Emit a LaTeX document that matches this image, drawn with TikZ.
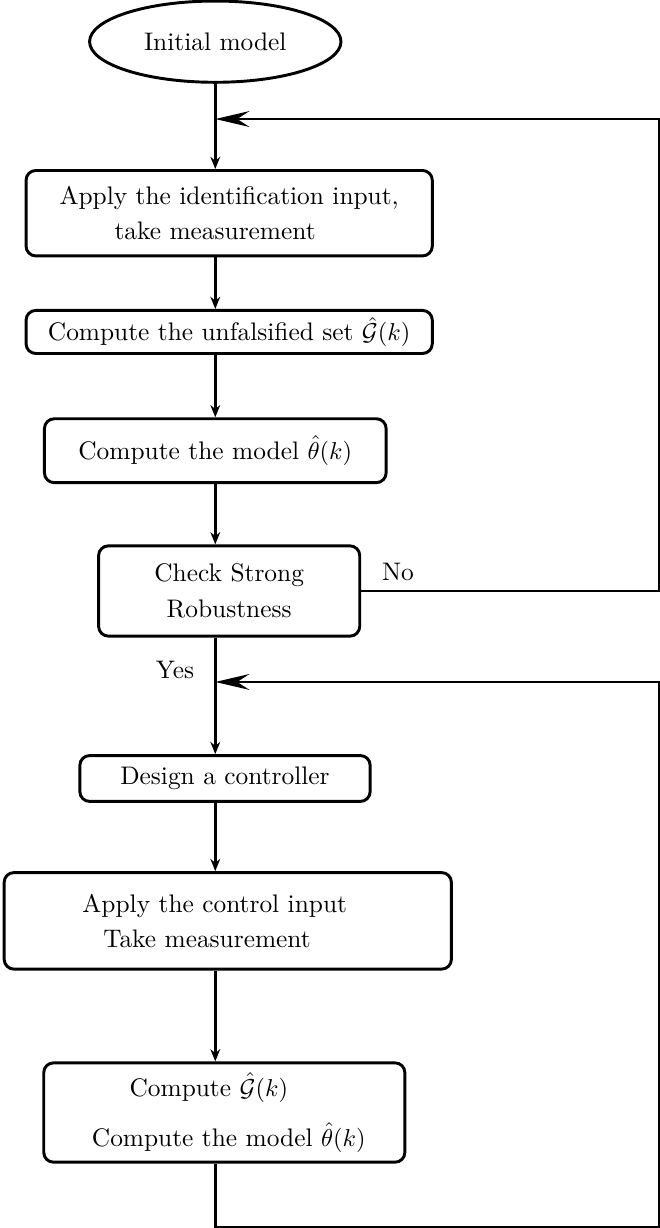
\documentclass[tikz,border=0pt]{standalone}
\usepackage{amsmath, amssymb}
\usepackage{tikz}
\usetikzlibrary{arrows.meta, positioning, calc, shapes.geometric}

\begin{document}
\begin{tikzpicture}[
    font=\fontsize{10.4}{12.5}\selectfont,
    box/.style={draw, line width=1.2pt, rounded corners=4pt, align=center, inner sep=2pt},
    flow/.style={line width=1pt, -{Stealth[length=5pt, width=4pt]}},
    back/.style={line width=1pt, -{Stealth[length=14pt, width=6.5pt, inset=5pt]}},
    plain/.style={line width=1pt}
]
    \useasboundingbox (0,0) rectangle (9.504,-17.683);
    % Start
    \node[draw, ellipse, line width=1.2pt, minimum width=3.62cm, minimum height=1.17cm] (init) at (3.10,-0.60) {Initial model};
    % Identification loop
    \node[box, minimum width=5.85cm, minimum height=1.23cm] (ident) at (3.30,-3.07) {Apply the identification input,\\[2pt] take measurement\hspace*{11.5pt}};
    \node[box, minimum width=5.85cm, minimum height=0.62cm] (unfals) at (3.30,-4.78) {Compute the unfalsified set $\hat{\mathcal{G}}(k)$};
    \node[box, minimum width=4.92cm, minimum height=0.92cm] (model) at (3.10,-6.49) {Compute the model $\hat{\theta}(k)$};
    \node[box, minimum width=3.76cm, minimum height=1.30cm] (check) at (3.30,-8.51) {Check Strong\\[2pt] Robustness};
    % Control loop
    \node[box, minimum width=4.18cm, minimum height=0.66cm] (design) at (3.24,-11.21) {Design a controller};
    \node[box, minimum width=6.44cm, minimum height=1.39cm] (apply) at (3.28,-13.26) {Apply the control input\hspace*{10.7pt}\\[2pt] Take measurement\hspace*{17pt}};
    \node[box, minimum width=5.20cm, minimum height=1.43cm] (update) at (3.23,-16.02) {Compute $\hat{\mathcal{G}}(k)$\hspace*{12.7pt}\\[8pt] \hspace*{3.7pt}Compute the model $\hat{\theta}(k)$};
    % Labels
    \node (no) at (5.73,-8.24) {No};
    \node (yes) at (2.52,-9.65) {Yes};
    % Corner points of the feedback lines
    \coordinate (join1) at (init.south |- 0,-1.714);
    \coordinate (join2) at (init.south |- 0,-9.82);
    \coordinate (rtop) at (9.49,-1.714);
    \coordinate (rmid) at (9.49,-8.51);
    \coordinate (rjoin) at (9.49,-9.82);
    \coordinate (rbot) at (9.49,-17.665);
    % Main flow
    \draw[flow] (init.south) -- (init.south |- ident.north);
    \draw[flow] (init.south |- ident.south) -- (init.south |- unfals.north);
    \draw[flow] (init.south |- unfals.south) -- (init.south |- model.north);
    \draw[flow] (model.south) -- (init.south |- check.north);
    \draw[flow] (init.south |- check.south) -- (init.south |- design.north);
    \draw[flow] (init.south |- design.south) -- (init.south |- apply.north);
    \draw[flow] (init.south |- apply.south) -- (init.south |- update.north);
    % Feedback
    \draw[back] (check.east) -- (rmid) -- (rtop) -- (join1);
    \draw[back] (init.south |- update.south) -- (init.south |- rbot) -- (rbot) -- (rjoin) -- (join2);
\end{tikzpicture}
\end{document}
